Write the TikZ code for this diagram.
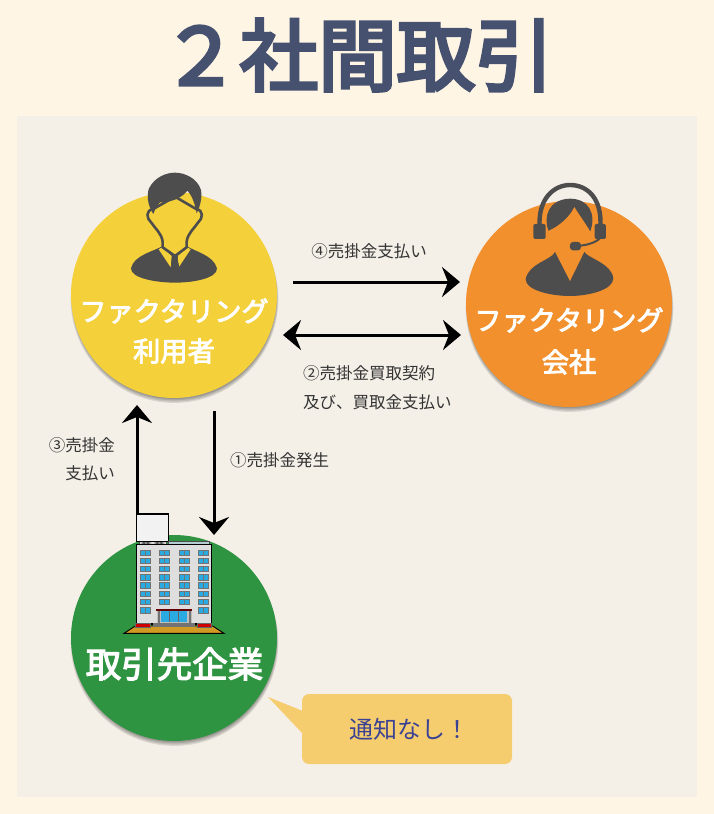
\documentclass[tikz,border=0pt]{standalone}
\usepackage{fontspec}
\usetikzlibrary{arrows.meta}
\newfontfamily\jp{Noto Sans CJK JP}
\newfontfamily\jpm[FakeBold=3.2]{Noto Sans CJK JP}
\newfontfamily\jpt[FakeBold=4.5]{Noto Sans CJK JP}
\definecolor{pagebg}{HTML}{FFF5E5}
\definecolor{panelbg}{HTML}{F4F0E8}
\definecolor{titleblue}{HTML}{46506F}
\definecolor{cyellow}{HTML}{F4D03B}
\definecolor{corange}{HTML}{F2902E}
\definecolor{cgreen}{HTML}{2F9441}
\definecolor{icondark}{HTML}{4D4D4D}
\definecolor{bubblefill}{HTML}{F5CD6E}
\definecolor{bubbletext}{HTML}{3B4294}
\definecolor{winblue}{HTML}{29ABE2}
\definecolor{basegold}{HTML}{D09A24}
\definecolor{towergrey}{HTML}{DEDEDE}
\definecolor{roofblue}{HTML}{B4CDD1}
\tikzset{
  disc/.style={circle,minimum size=206pt,inner sep=0pt,fill=#1},
  whitelabel/.style={text=white,font=\jpm\fontsize{27.2}{30}\selectfont,inner sep=0pt},
  smalllabel/.style={text=black!80,font=\jp\fontsize{16.5}{20}\selectfont,inner sep=0pt},
  flow/.style={line width=3pt,-{Stealth[length=18pt,width=30pt,inset=6pt]}},
  flowboth/.style={line width=3pt,{Stealth[length=18pt,width=30pt,inset=6pt]}-{Stealth[length=18pt,width=30pt,inset=6pt]}},
  icon/.style={x=0.3333pt,y=-0.3333pt},
  win/.style={fill=winblue,draw=black!55,line width=.9pt},
}
\newcommand{\softshadow}[2]{%
  \foreach \k in {3,2,1,0}{\fill[black,opacity=.11] (#1+.5,#2+2+\k*0.7) circle[radius=102+\k*0.6];}%
}
\begin{document}
\begin{tikzpicture}[x=1pt,y=-1pt]
\useasboundingbox (0,0) rectangle (714,814);
\fill[pagebg] (0,0) rectangle (714,814);
\fill[panelbg] (17,116) rectangle (697,797);
\node[text=titleblue,font=\jpt\fontsize{78.5}{84}\selectfont,inner sep=0pt] (title) at (357.5,55) {２社間取引};

% circles
\softshadow{174}{295}
\softshadow{569}{304}
\softshadow{174}{638}
\node[disc=cyellow] (user) at (174,295) {};
\node[disc=corange] (company) at (569,304) {};
\node[disc=cgreen] (client) at (174,638) {};

% connectors
\coordinate (a4s) at (293,282); \coordinate (a4e) at (460,282);
\coordinate (a2s) at (283,335); \coordinate (a2e) at (461,335);
\coordinate (a3s) at (137,520); \coordinate (a3e) at (137,405);
\coordinate (a1s) at (214,411); \coordinate (a1e) at (214,535);
\draw[flow] (a4s) -- (a4e);
\draw[flowboth] (a2s) -- (a2e);
\draw[flow] (a3s) -- (a3e);
\draw[flow] (a1s) -- (a1e);

% businessman icon
\begin{scope}[shift={(60,160)},icon]
  \fill[icondark] (308,258) .. controls (280,275) and (222,285) .. (213,325)
    .. controls (212,355) and (290,368) .. (345,368)
    .. controls (400,368) and (472,355) .. (471,325)
    .. controls (460,285) and (405,275) .. (380,258) -- cycle;
  \fill[cyellow] (296,268) -- (332,322) -- (335,288) -- (306,262) -- cycle;
  \fill[cyellow] (392,268) -- (356,322) -- (353,288) -- (382,262) -- cycle;
  \fill[icondark] (334,276) -- (356,276) -- (352,295) -- (358,322) -- (332,322) -- (338,295) -- cycle;
  \draw[icondark,line width=2.6pt,line join=round,line cap=round,fill=cyellow]
    (278,148) .. controls (258,150) and (258,175) .. (274,188)
    .. controls (285,205) and (305,220) .. (308,245) -- (308,262) -- (345,288) -- (380,262) -- (380,245)
    .. controls (383,220) and (403,205) .. (414,188)
    .. controls (430,175) and (430,150) .. (410,148)
    -- (345,110) -- cycle;
  \fill[icondark] (280,162) .. controls (262,135) and (260,105) .. (267,85)
    .. controls (285,50) and (320,38) .. (345,38)
    .. controls (375,38) and (412,55) .. (423,90)
    .. controls (427,115) and (420,140) .. (410,160)
    .. controls (405,130) and (395,105) .. (382,92)
    .. controls (365,115) and (330,128) .. (300,127)
    .. controls (292,135) and (285,148) .. (280,162) -- cycle;
\end{scope}

% operator icon
\begin{scope}[shift={(455,170)},icon]
  \fill[icondark] (300,246) -- (345,334) -- (388,246)
    .. controls (400,265) and (470,280) .. (475,325)
    .. controls (475,360) and (400,378) .. (345,378)
    .. controls (285,378) and (212,360) .. (212,328)
    .. controls (220,280) and (290,270) .. (300,246) -- cycle;
  \fill[icondark] (280,182) .. controls (265,140) and (280,88) .. (345,86)
    .. controls (400,86) and (425,130) .. (406,184)
    .. controls (395,165) and (370,130) .. (358,110)
    .. controls (345,140) and (310,170) .. (280,182) -- cycle;
  \draw[icondark,line width=4.4pt] (254,172) .. controls (248,85) and (298,45) .. (345,45)
    .. controls (397,45) and (442,85) .. (436,172);
  \fill[icondark,rounded corners=2pt] (235,162) rectangle (272,207);
  \fill[icondark,rounded corners=2pt] (419,162) rectangle (453,207);
  \draw[icondark,line width=2pt] (438,200) .. controls (430,215) and (400,226) .. (365,228);
  \fill[icondark,rounded corners=3pt] (345,216) rectangle (378,241);
\end{scope}

% building icon
\begin{scope}[shift={(100,500)},icon]
  \draw[black!70,line width=.8pt,fill=towergrey] (118,124) rectangle (198,134);
  \draw[black!70,line width=.8pt] (118,134) -- (158,124) -- (198,134) (118,124) -- (158,134) -- (198,124);
  \draw[black,line width=1.1pt,fill=black!5] (110,42) rectangle (205,125);
  \draw[black!70,line width=.8pt,fill=roofblue] (205,124) rectangle (328,134);
  \draw[black,line width=1.3pt,fill=towergrey] (110,134) rectangle (335,372);
  \foreach \wx in {120,179,237,295}{
    \foreach \wy in {150,175,199,224,248,273,298}{
      \draw[win] (\wx,\wy) rectangle (\wx+30,\wy+16);
      \draw[black!55,line width=.5pt] (\wx+15,\wy) -- (\wx+15,\wy+16);
    }
  }
  \foreach \wx in {120,295}{
    \draw[win] (\wx,323) rectangle (\wx+30,339);
    \draw[black!55,line width=.5pt] (\wx+15,323) -- (\wx+15,339);
  }
  \fill[black!25] (170,332) rectangle (275,368);
  \draw[black!55,line width=.5pt] (174,332) -- (174,368) (178,332) -- (178,368) (267,332) -- (267,368) (271,332) -- (271,368);
  \fill[winblue] (182,334) rectangle (262,367);
  \draw[black!60,line width=.5pt] (208,334) -- (208,367) (235,334) -- (235,367);
  \fill[red!40!black] (167,327) rectangle (277,332);
  \draw[black,line width=.9pt,fill=basegold] (72,400) -- (372,400) -- (338,378) -- (106,378) -- cycle;
  \fill[black!55] (160,370) rectangle (285,381);
  \draw[black!60,line width=.5pt,fill=red!80!black] (105,371) rectangle (150,382);
  \draw[black!60,line width=.5pt,fill=red!80!black] (292,371) rectangle (335,382);
\end{scope}

% circle texts
\node[whitelabel] (usera) at (174,311) {ファクタリング};
\node[whitelabel] (userb) at (174,351) {利用者};
\node[whitelabel] (compa) at (569,320) {ファクタリング};
\node[whitelabel] (compb) at (569,362) {会社};
\node[text=white,font=\jpm\fontsize{35.5}{40}\selectfont,inner sep=0pt] (cl) at (174.5,664) {取引先企業};

% edge labels
\node[smalllabel] (l4) at (369,251) {④売掛金支払い};
\node[smalllabel,anchor=west] (l2a) at (303,373) {②売掛金買取契約};
\node[smalllabel,anchor=west] (l2b) at (303,402) {及び、買取金支払い};
\node[smalllabel,anchor=east] (l3a) at (115,445) {③売掛金};
\node[smalllabel,anchor=east] (l3b) at (115,473) {支払い};
\node[smalllabel,anchor=west] (l1) at (230,460) {①売掛金発生};

% bubble
\fill[bubblefill,rounded corners=7pt] (302,694) rectangle (512,764);
\fill[bubblefill] (268,697) -- (303,711) -- (303,734) -- cycle;
\node[text=bubbletext,font=\jp\fontsize{24}{28}\selectfont,inner sep=0pt] (note) at (409,729) {通知なし！};
\end{tikzpicture}
\end{document}
